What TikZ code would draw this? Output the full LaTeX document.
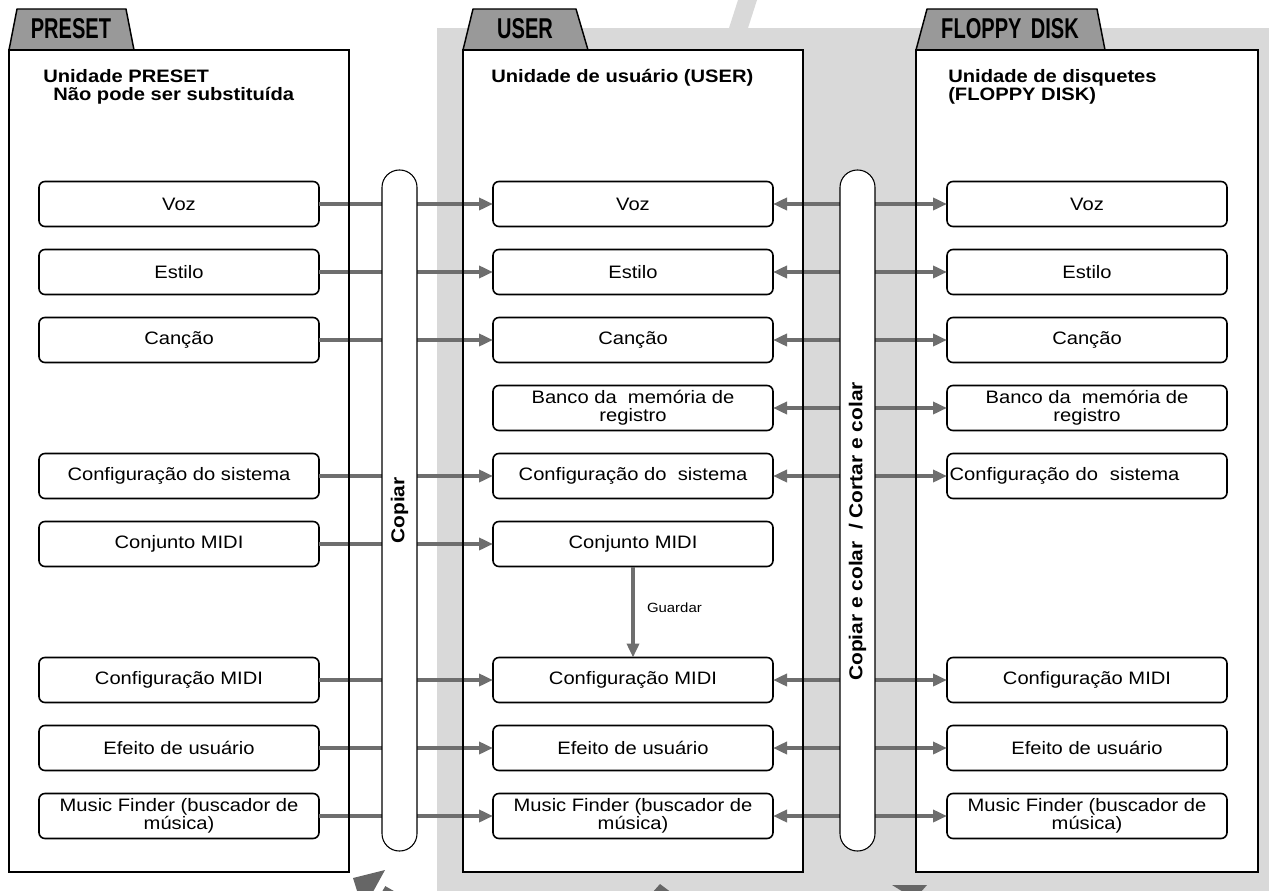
\documentclass[tikz,border=0pt]{standalone}
\usepackage{fontspec}
\setmainfont[FakeStretch=1.12]{Liberation Sans}
\newfontfamily\tabfont[FakeStretch=0.7]{Liberation Sans}
\usepackage{tikz}
\usetikzlibrary{positioning,arrows.meta}
\definecolor{bggray}{HTML}{D9D9D9}
\definecolor{tabgray}{HTML}{999999}
\definecolor{flowgray}{HTML}{6E6E6E}
\definecolor{markgray}{HTML}{666666}
\tikzset{
  box/.style={draw, fill=white, rounded corners=4.5pt, line width=1.2pt, align=center, outer sep=0pt,
              font=\fontsize{13.5}{13.5}\selectfont, minimum width=210pt, minimum height=33.75pt, inner sep=2pt},
  panel/.style={fill=white, minimum width=255pt, minimum height=616.5pt, inner sep=0pt, outer sep=0pt},
  rim/.style={draw=black, line width=2.2pt},
  tab/.style={draw=black, fill=tabgray, line width=1.1pt, line join=round},
  tablabel/.style={anchor=base, inner sep=0pt, font=\tabfont\bfseries\fontsize{21.5}{21.5}\selectfont},
  head/.style={anchor=base west, inner sep=0pt, font=\bfseries\fontsize{13.5}{13.5}\selectfont},
  pill/.style={draw=black, fill=white, line width=0.8pt, rounded corners=13pt, rotate=90,
               minimum width=510.75pt, minimum height=26.25pt, inner sep=0pt, font=\bfseries\fontsize{14}{14}\selectfont},
  pilltext/.style={rotate=90, inner sep=0pt, font=\bfseries\fontsize{14}{14}\selectfont},
  guard/.style={right=9pt, pos=0.45, inner sep=0pt, font=\fontsize{10}{10}\selectfont},
  flow/.style={-{Triangle[length=10.5pt, width=9pt]}, line width=3pt, draw=flowgray},
  dflow/.style={{Triangle[length=10.5pt, width=9pt]}-{Triangle[length=10.5pt, width=9pt]}, line width=3pt, draw=flowgray},
}
\begin{document}
\begin{tikzpicture}[x=0.75pt, y=-0.75pt, node distance=17.25pt and 130.5pt]
  \useasboundingbox (0,0) rectangle (1269,891);
  \fill[bggray] (437,28) rectangle (1269,891);
  \fill[bggray] (729,28) -- (738,0) -- (757,0) -- (748,28) -- cycle;
  \begin{scope}
    \clip (0,0) rectangle (1269,891);
    \fill[markgray] (353,878) -- (385,870) -- (363,910) -- cycle;
    \fill[markgray] (385.3,886.1) -- (426.9,909.9) -- (417.9,925.5) -- (376.3,901.7) -- cycle;
    \fill[markgray] (660,884) -- (672,893) -- (652,893) -- cycle;
    \fill[markgray] (892,885) -- (927,885) -- (920,893) -- (905,893) -- cycle;
  \end{scope}
  \node[panel] (pre) at (179,461) {};
  \node[panel] (usr) at (633,461) {};
  \node[panel, minimum width=256.5pt] (flp) at (1087,461) {};
  \draw[tab] (pre.north west) -- (17,9) -- (126,9) -- (134,50) -- cycle;
  \draw[tab] (usr.north west) -- (473,9) -- (576,9) -- (588,50) -- cycle;
  \draw[tab] (flp.north west) -- (927,9) -- (1097,9) -- (1105,50) -- cycle;
  \node[tablabel] (ptab) at (71,39) {PRESET};
  \node[tablabel] (utab) at (525,39) {USER};
  \node[tablabel] (ftab) at (1010,39) {FLOPPY\hspace{7pt}DISK};
  \node[head] (phead) at (43,83) {Unidade PRESET};
  \node[head] (psub) at (53,101) {Não pode ser substituída};
  \node[head] (uhead) at (491,83) {Unidade de usuário (USER)};
  \node[head] (fhead) at (948,83) {Unidade de disquetes};
  \node[head] (fsub) at (948,101) {(FLOPPY DISK)};
  \node[box] (uvoz) at (633,204) {Voz};
  \node[box, below=of uvoz] (uest) {Estilo};
  \node[box, below=of uest] (ucan) {Canção};
  \node[box, below=of ucan] (uban) {Banco da\ \ memória de\\registro};
  \node[box, below=of uban] (usis) {Configuração do\ \ sistema};
  \node[box, below=of usis] (umidi) {Conjunto MIDI};
  \node[box, below=68.25pt of umidi] (ucfg) {Configuração MIDI};
  \node[box, below=of ucfg] (uefe) {Efeito de usuário};
  \node[box, below=of uefe] (umf) {Music Finder (buscador de\\música)};
  \node[box, left=of uvoz] (pvoz) {Voz};
  \node[box, left=of uest] (pest) {Estilo};
  \node[box, left=of ucan] (pcan) {Canção};
  \node[box, left=of usis] (psis) {Configuração do sistema};
  \node[box, left=of umidi] (pmidi) {Conjunto MIDI};
  \node[box, left=of ucfg] (pcfg) {Configuração MIDI};
  \node[box, left=of uefe] (pefe) {Efeito de usuário};
  \node[box, left=of umf] (pmf) {Music Finder (buscador de\\música)};
  \node[box, right=of uvoz] (fvoz) {Voz};
  \node[box, right=of uest] (fest) {Estilo};
  \node[box, right=of ucan] (fcan) {Canção};
  \node[box, right=of uban] (fban) {Banco da\ \ memória de\\registro};
  \node[box, right=of usis, text width=206pt, align=left] (fsis) {Configuração do\ \ sistema};
  \node[box, right=of ucfg] (fcfg) {Configuração MIDI};
  \node[box, right=of uefe] (fefe) {Efeito de usuário};
  \node[box, right=of umf] (fmf) {Music Finder (buscador de\\música)};
  \draw[flow] (pvoz) -- (uvoz);
  \draw[flow] (pest) -- (uest);
  \draw[flow] (pcan) -- (ucan);
  \draw[flow] (psis) -- (usis);
  \draw[flow] (pmidi) -- (umidi);
  \draw[flow] (pcfg) -- (ucfg);
  \draw[flow] (pefe) -- (uefe);
  \draw[flow] (pmf) -- (umf);
  \draw[dflow] (uvoz) -- (fvoz);
  \draw[dflow] (uest) -- (fest);
  \draw[dflow] (ucan) -- (fcan);
  \draw[dflow] (uban) -- (fban);
  \draw[dflow] (usis) -- (fsis);
  \draw[dflow] (ucfg) -- (fcfg);
  \draw[dflow] (uefe) -- (fefe);
  \draw[dflow] (umf) -- (fmf);
  \draw[flow] (umidi) -- node[guard] {Guardar} (ucfg);
  \draw[rim] (pre.north west) rectangle (pre.south east);
  \draw[rim] (usr.north west) rectangle (usr.south east);
  \draw[rim] (flp.north west) rectangle (flp.south east);
  \node[pill] (copy) at (399.5,510.5) {Copiar};
  \node[pill] (paste) at (857.5,510.5) {};
  \node[pilltext] (pastelbl) at ([yshift=-15.75pt]paste.center) {Copiar e colar\ \ / Cortar e colar};
\end{tikzpicture}
\end{document}
